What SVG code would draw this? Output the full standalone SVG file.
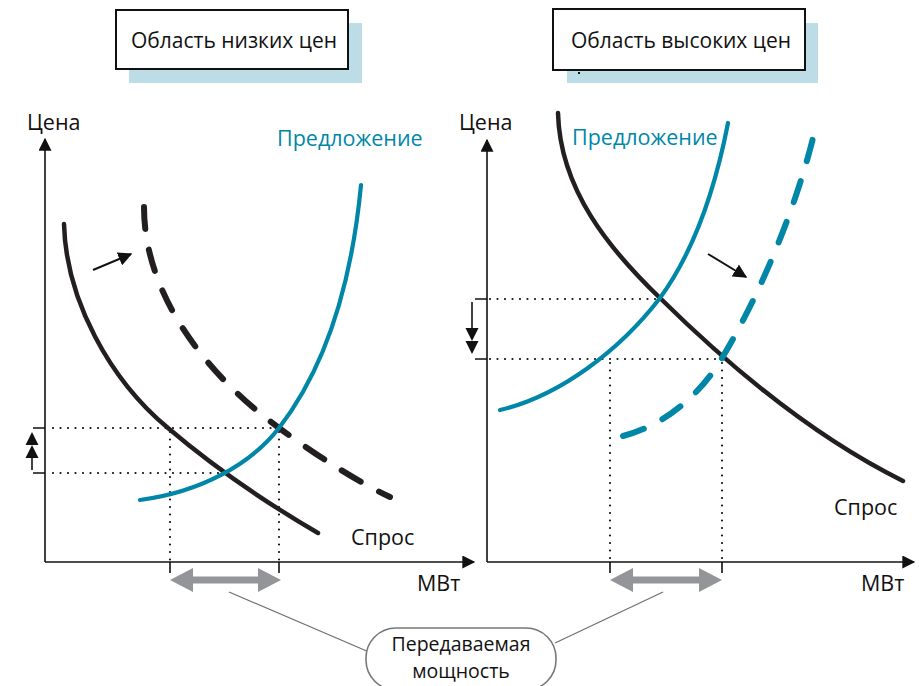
<svg xmlns="http://www.w3.org/2000/svg" width="919" height="686" viewBox="0 0 919 686">
<style>
text{font-family:"Open Sans","Noto Sans","Liberation Sans",sans-serif;fill:#111;}
.t{font-size:21px;}
.lab{font-size:21.5px;}
.bub{font-size:19.5px;}
.teal{fill:#0087a8;}
.axis{stroke:#111;stroke-width:1.6;fill:none;}
.tick{stroke:#111;stroke-width:1.6;fill:none;}
.dot{stroke:#111;stroke-width:2.2;stroke-linecap:round;stroke-dasharray:0 7.5;fill:none;}
.dem{stroke:#231f20;stroke-width:4.5;fill:none;stroke-linecap:round;}
.sup{stroke:#0087a8;stroke-width:4.2;fill:none;stroke-linecap:round;}
.ddem{stroke:#231f20;stroke-width:6;fill:none;stroke-linecap:round;stroke-dasharray:22 21;}
.dsup{stroke:#0087a8;stroke-width:6;fill:none;stroke-linecap:round;stroke-dasharray:22 21;}
.gray{fill:#939598;}
.lead{stroke:#6d6e71;stroke-width:1.2;fill:none;}
.blk{fill:#111;}
</style>
<defs>
<marker id="ah" viewBox="0 0 10 10" refX="9" refY="5" markerWidth="14" markerHeight="14" markerUnits="userSpaceOnUse" orient="auto"><path d="M0,0 L10,5 L0,10 Z" fill="#111"/></marker>
<marker id="axh" viewBox="0 0 10 10" refX="9" refY="5" markerWidth="15" markerHeight="13" markerUnits="userSpaceOnUse" orient="auto"><path d="M0,0 L10,5 L0,10 Z" fill="#111"/></marker>
</defs>

<g id="title-low">
<rect x="129" y="23" width="233" height="60" fill="#bcdde6"/>
<rect x="116" y="10" width="232" height="59" fill="#fff" stroke="#111" stroke-width="2"/>
<text class="t" x="234" y="48" text-anchor="middle">Область низких цен</text>
</g>
<g id="title-high">
<rect x="567" y="23" width="251" height="60" fill="#bcdde6"/>
<rect x="553" y="9" width="252" height="61" fill="#fff" stroke="#111" stroke-width="2"/>
<rect x="578" y="72" width="2" height="2" fill="#111"/>
<text class="t" x="681" y="48" text-anchor="middle">Область высоких цен</text>
</g>

<g id="left-chart">
<path class="axis" d="M45,562 V139" marker-end="url(#axh)"/>
<path class="axis" d="M45,562 H474" marker-end="url(#axh)"/>
<text class="lab" x="27" y="130">Цена</text>
<text class="lab" x="417" y="591">МВт</text>
<text class="lab teal" x="277" y="146">Предложение</text>
<text class="lab" x="351" y="545">Спрос</text>
<path class="dot" d="M53,428 H279"/>
<path class="dot" d="M53,473 H222"/>
<path class="dot" d="M170,432 V562"/>
<path class="dot" d="M279,432 V562"/>
<path class="tick" d="M33,428 H45 M33,473 H45 M170,562 V573 M279,562 V573"/>
<path class="tick" d="M32,470 V456"/>
<path class="blk" d="M32,432 L38.5,445 L25.5,445 Z M32,445 L38.5,458 L25.5,458 Z"/>
<path class="ddem" d="M144,207 C144,290 200,370 279,428 C320,458 360,483 390,497"/>
<path class="dem" d="M64,224 C66,300 110,380 168,428 C215,468 270,505 318,533"/>
<path class="sup" d="M140,500 C200,492 250,465 279,428 C320,375 350,300 361,185"/>
<path d="M93,270 L131,254" stroke="#111" stroke-width="2" marker-end="url(#ah)"/>
<path class="gray" d="M170,580 L193,568 L193,576.5 L258,576.5 L258,568 L281,580 L258,592 L258,583.5 L193,583.5 L193,592 Z"/>
</g>

<g id="right-chart">
<path class="axis" d="M487,562 V140" marker-end="url(#axh)"/>
<path class="axis" d="M487,562 H914" marker-end="url(#axh)"/>
<text class="lab" x="459" y="130">Цена</text>
<text class="lab" x="861" y="591">МВт</text>
<text class="lab teal" x="572" y="145">Предложение</text>
<text class="lab" x="834" y="515">Спрос</text>
<path class="dot" d="M490,299 H656"/>
<path class="dot" d="M490,359 H722"/>
<path class="dot" d="M610,363 V562"/>
<path class="dot" d="M722,363 V562"/>
<path class="tick" d="M475,299 H487 M475,359 H487 M610,562 V573 M722,562 V573"/>
<path class="tick" d="M472,302 V328"/>
<path class="blk" d="M472,341 L465.5,328 L478.5,328 Z M472,354 L465.5,341 L478.5,341 Z"/>
<path class="dem" d="M558,113 C560,190 610,250 660,298 C735,372 820,440 903,481"/>
<path class="sup" d="M500,410 C560,396 620,350 660,298 C695,250 715,190 728,123"/>
<path class="dsup" d="M623,436 C665,425 700,395 722,358 C760,295 795,210 813,138"/>
<path d="M708,254 L746,277" stroke="#111" stroke-width="2" marker-end="url(#ah)"/>
<path class="gray" d="M610,580 L633,568 L633,576.5 L699,576.5 L699,568 L722,580 L699,592 L699,583.5 L633,583.5 L633,592 Z"/>
</g>

<g id="connectors">
<path class="lead" d="M229,592 L369,652"/>
<path class="lead" d="M663,592 L555,643"/>
</g>

<g id="bubble">
<rect x="366" y="628" width="190" height="62" rx="30" ry="30" fill="#fff" stroke="#777" stroke-width="1.6"/>
<text class="bub" x="461" y="651" text-anchor="middle">Передаваемая</text>
<text class="bub" x="461" y="678" text-anchor="middle">мощность</text>
</g>
</svg>
